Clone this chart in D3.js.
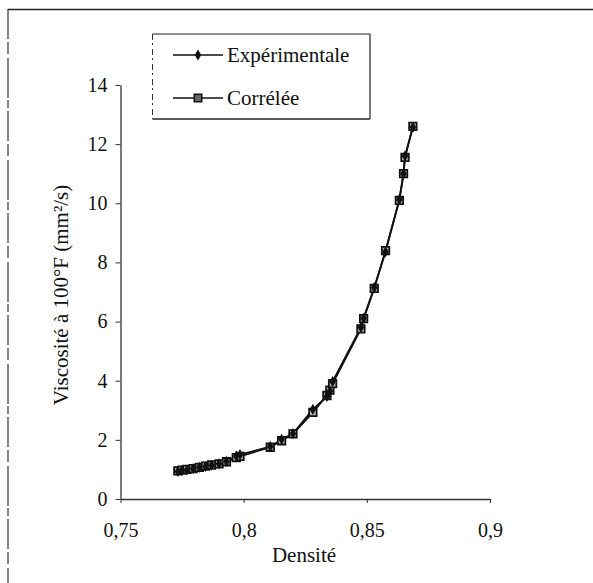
<!DOCTYPE html>
<html>
<head>
<meta charset="utf-8">
<script src="https://cdn.jsdelivr.net/npm/d3@7"></script>
<style>
  html, body { margin: 0; padding: 0; background: #fff; }
  svg text { font-family: "Liberation Serif", "DejaVu Serif", serif !important; fill: #111; }
</style>
</head>
<body>
<svg id="chart" width="593" height="583"></svg>
<script>
// ---- data ----
const densite = [0.7733, 0.7750, 0.7770, 0.7795, 0.7820, 0.7845, 0.7870, 0.7900, 0.7930, 0.7970, 0.7985,
                 0.8108, 0.8154, 0.8200, 0.8281, 0.8338, 0.8350, 0.8361, 0.8476, 0.8487, 0.8530,
                 0.8576, 0.8632, 0.8649, 0.8655, 0.8687];
const experimentale = [0.93, 0.97, 0.98, 1.03, 1.07, 1.10, 1.14, 1.19, 1.27, 1.45, 1.50,
                       1.77, 2.02, 2.21, 3.03, 3.47, 3.65, 3.97, 5.80, 6.11, 7.15,
                       8.36, 10.13, 11.00, 11.60, 12.57];
const correlee = [0.95, 0.98, 1.00, 1.03, 1.07, 1.11, 1.15, 1.19, 1.26, 1.40, 1.44,
                  1.75, 1.97, 2.20, 2.93, 3.50, 3.68, 3.90, 5.75, 6.10, 7.12,
                  8.40, 10.10, 11.00, 11.55, 12.60];
const xTicks = [0.75, 0.8, 0.85, 0.9];
const xTickLabels = ["0,75", "0,8", "0,85", "0,9"];
const yTicks = [0, 2, 4, 6, 8, 10, 12, 14];
const seriesNames = ["Expérimentale", "Corrélée"];
const xTitle = "Densité";
const yTitle = "Viscosité à 100°F (mm²/s)";

// ---- layout ----
const FONT = "'Liberation Serif', 'DejaVu Serif', serif";
const svg = d3.select("#chart");
const x = d3.scaleLinear().domain([0.75, 0.9]).range([120.5, 490]);
const y = d3.scaleLinear().domain([0, 14]).range([499, 85]);

// page frame (scanned border)
svg.append("line").attr("x1", 8).attr("x2", 593).attr("y1", 9.5).attr("y2", 9.5)
  .attr("stroke", "#222").attr("stroke-width", 1.6);
svg.append("line").attr("x1", 8).attr("x2", 8).attr("y1", 9).attr("y2", 583)
  .attr("stroke", "#333").attr("stroke-width", 1.2).attr("stroke-dasharray", "30,3,12,4,40,2,8,3");

// axes
const xAxis = d3.axisBottom(x).tickValues(xTicks).tickFormat((d, i) => xTickLabels[i])
  .tickSizeInner(4).tickSizeOuter(0).tickPadding(20);
const gx = svg.append("g").attr("transform", "translate(0,499)").call(xAxis).attr("font-family", null);
gx.select(".domain").attr("stroke", "#333").attr("stroke-width", 1.3);
gx.selectAll(".tick line").attr("stroke", "#333");
gx.selectAll(".tick text").attr("font-size", 20).style("font-family", FONT).attr("fill", "#111");

const yAxis = d3.axisLeft(y).tickValues(yTicks).tickFormat(d3.format("d"))
  .tickSizeInner(5).tickSizeOuter(0).tickPadding(8);
const gy = svg.append("g").attr("transform", "translate(120.5,0)").call(yAxis).attr("font-family", null);
gy.select(".domain").attr("stroke", "#333").attr("stroke-width", 1.3);
gy.selectAll(".tick line").attr("stroke", "#333");
gy.selectAll(".tick text").attr("font-size", 20).style("font-family", FONT).attr("fill", "#111");

// titles
svg.append("text").attr("x", 304).attr("y", 562).attr("text-anchor", "middle")
  .attr("font-size", 21).style("font-family", FONT).text(xTitle);
svg.append("text").attr("transform", "translate(68,295) rotate(-90)").attr("text-anchor", "middle")
  .attr("font-size", 21).style("font-family", FONT).text(yTitle);

// series
const line = d3.line().x(d => x(d[0])).y(d => y(d[1]));
const corrPts = densite.map((d, i) => [d, correlee[i]]);
const expPts = densite.map((d, i) => [d, experimentale[i]]);

svg.append("path").datum(corrPts).attr("d", line).attr("fill", "none")
  .attr("stroke", "#111").attr("stroke-width", 1.8);
svg.append("path").datum(expPts).attr("d", line).attr("fill", "none")
  .attr("stroke", "#111").attr("stroke-width", 1.8);

const sq = d3.symbol().type(d3.symbolSquare).size(56);
const dia = d3.symbol().type(d3.symbolDiamond).size(36);

svg.append("g").selectAll("path").data(corrPts).join("path")
  .attr("d", sq).attr("transform", d => `translate(${x(d[0])},${y(d[1])})`)
  .attr("fill", "#bbb").attr("stroke", "#111").attr("stroke-width", 1.8);
svg.append("g").selectAll("path").data(expPts).join("path")
  .attr("d", dia).attr("transform", d => `translate(${x(d[0])},${y(d[1])})`)
  .attr("fill", "#111");

// legend
const lg = svg.append("g");
lg.append("line").attr("x1", 152.5).attr("x2", 370).attr("y1", 34).attr("y2", 34).attr("stroke", "#222").attr("stroke-width", 1.2);
lg.append("line").attr("x1", 152.5).attr("x2", 370).attr("y1", 119).attr("y2", 119).attr("stroke", "#222").attr("stroke-width", 1.6);
lg.append("line").attr("x1", 370).attr("x2", 370).attr("y1", 34).attr("y2", 119).attr("stroke", "#222").attr("stroke-width", 1.2);
lg.append("line").attr("x1", 152.5).attr("x2", 152.5).attr("y1", 34).attr("y2", 119).attr("stroke", "#333").attr("stroke-width", 1).attr("stroke-dasharray", "6,3,2,4");

const legendY = [55, 98];
seriesNames.forEach((name, i) => {
  const ly = legendY[i];
  lg.append("line").attr("x1", 173).attr("x2", 223).attr("y1", ly).attr("y2", ly)
    .attr("stroke", "#111").attr("stroke-width", 1.5);
  if (i === 0) {
    lg.append("path").attr("d", dia).attr("transform", `translate(198,${ly})`).attr("fill", "#111");
  } else {
    lg.append("path").attr("d", sq).attr("transform", `translate(198,${ly})`)
      .attr("fill", "#666").attr("stroke", "#111").attr("stroke-width", 1.5);
  }
  lg.append("text").attr("x", 227).attr("y", ly + 7).attr("font-size", 21).style("font-family", FONT).text(name);
});
</script>
</body>
</html>
